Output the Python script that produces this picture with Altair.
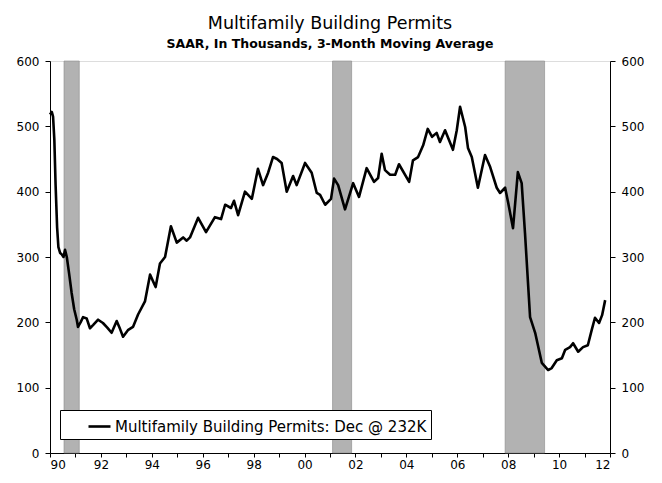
import altair as alt
import pandas as pd

# ---- data ----
years = [
    1990.00, 1990.07, 1990.12, 1990.17, 1990.22, 1990.28, 1990.33, 1990.40, 1990.46, 1990.53,
    1990.59, 1990.66, 1990.75, 1990.85, 1990.95, 1991.05, 1991.10, 1991.20, 1991.30, 1991.44,
    1991.57, 1991.70, 1991.89, 1992.08, 1992.25, 1992.42, 1992.62, 1992.75, 1992.87, 1993.06,
    1993.26, 1993.46, 1993.73, 1993.93, 1994.15, 1994.32, 1994.52, 1994.75, 1994.98, 1995.23,
    1995.37, 1995.50, 1995.82, 1996.13, 1996.48, 1996.72, 1996.88, 1997.11, 1997.23, 1997.39,
    1997.66, 1997.93, 1998.17, 1998.37, 1998.57, 1998.76, 1998.92, 1999.10, 1999.30, 1999.55,
    1999.69, 2000.02, 2000.28, 2000.48, 2000.61, 2000.81, 2001.04, 2001.16, 2001.32, 2001.59,
    2001.91, 2002.14, 2002.44, 2002.73, 2002.89, 2003.03, 2003.16, 2003.36, 2003.56, 2003.71,
    2004.11, 2004.26, 2004.46, 2004.66, 2004.84, 2005.01, 2005.19, 2005.32, 2005.52, 2005.83,
    2005.98, 2006.11, 2006.31, 2006.42, 2006.57, 2006.81, 2007.09, 2007.29, 2007.55, 2007.68,
    2007.88, 2008.00, 2008.19, 2008.38, 2008.53, 2008.66, 2008.86, 2009.06, 2009.32, 2009.57,
    2009.71, 2009.91, 2010.11, 2010.24, 2010.43, 2010.55, 2010.75, 2010.94, 2011.13, 2011.28,
    2011.41, 2011.57, 2011.69, 2011.81,
]
permits = [
    518, 522, 515, 480, 410, 345, 315, 306, 304, 300,
    311, 300, 275, 245, 220, 204, 193, 200, 208, 206,
    191, 196, 204, 199, 192, 184, 202, 190, 178, 188,
    193, 212, 232, 273, 254, 290, 300, 347, 322, 330,
    325, 330, 360, 338, 361, 358, 380, 375, 386, 364,
    400, 389, 435, 410, 429, 453, 450, 444, 400, 424,
    410, 444, 429, 398, 395, 380, 389, 420, 410, 373,
    413, 392, 436, 415, 421, 458, 433, 426, 426, 442,
    415, 448, 453, 471, 496, 484, 490, 476, 494, 464,
    494, 530, 499, 467, 453, 406, 456, 438, 406, 398,
    406, 383, 344, 430, 413, 337, 208, 184, 138, 127,
    130, 142, 145, 158, 162, 168, 155, 162, 165, 188,
    207, 199, 211, 234,
]
series_name = "Multifamily Building Permits: Dec @ 232K"

rec_start = [1990.55, 2001.10, 2007.88]
rec_end = [1991.15, 2001.85, 2009.43]

tick_years = list(range(1990, 2013))
y_ticks = [0, 100, 200, 300, 400, 500, 600]

df = pd.DataFrame({"year": years, "value": permits, "series": series_name})
rec = pd.DataFrame({"start": rec_start, "end": rec_end, "lo": 0, "hi": 600})

FONT = "DejaVu Sans"

xscale = alt.Scale(domain=[1990, 2012], nice=False, zero=False)
yscale = alt.Scale(domain=[0, 600], nice=False)

xaxis = alt.Axis(
    values=tick_years,
    labelExpr="datum.value % 2 == 0 ? substring(toString(datum.value), 2, 4) : ''",
    title=None, grid=False, tickSize=4, labelPadding=2, labelFontSize=12,
    labelFont=FONT, labelColor="black", domainColor="black", tickColor="black",
)

shade = alt.Chart(rec).mark_rect(color="#b2b2b2", stroke="#8a8a8a", strokeWidth=0.6).encode(
    x=alt.X("start:Q", scale=xscale, axis=xaxis),
    x2="end:Q",
    y=alt.Y("lo:Q", scale=yscale, axis=alt.Axis(
        values=y_ticks, title=None, grid=False, orient="left", tickSize=5,
        labelPadding=6, labelFontSize=12, labelFont=FONT, labelColor="black",
        domainColor="black", tickColor="black")),
    y2="hi:Q",
)

line = alt.Chart(df).mark_line(strokeWidth=2.6, strokeJoin="round").encode(
    x=alt.X("year:Q", scale=xscale, axis=xaxis),
    y=alt.Y("value:Q", scale=yscale, axis=alt.Axis(
        values=y_ticks, title=None, grid=False, orient="right", tickSize=5,
        labelPadding=6, labelFontSize=12, labelFont=FONT, labelColor="black",
        domainColor="black", tickColor="black")),
    color=alt.Color("series:N", scale=alt.Scale(range=["black"]), legend=alt.Legend(
        title=None, orient="none", legendX=10, legendY=349,
        strokeColor="black", fillColor="white", padding=4,
        symbolType="stroke", symbolSize=484, symbolStrokeWidth=2.6,
        symbolStrokeColor="black", symbolOffset=23, labelOffset=3,
        labelFontSize=15, labelFont=FONT, labelColor="black", labelLimit=600)),
)

chart = alt.layer(shade, line).resolve_scale(y="independent").properties(
    width=560, height=392,
    autosize=alt.AutoSizeParams(type="none"),
    padding={"left": 42, "top": 53, "right": 44, "bottom": 22},
    title=alt.TitleParams(
        text="Multifamily Building Permits",
        subtitle="SAAR, In Thousands, 3-Month Moving Average",
        font=FONT, fontSize=17.5, fontWeight="normal", color="black",
        subtitleFont=FONT, subtitleFontSize=12.5, subtitleFontWeight="bold",
        subtitleColor="black", subtitlePadding=5, offset=5, anchor="middle",
    ),
).configure_view(stroke="black", strokeWidth=1).configure(background="white")

chart.save("out.html", embed_options={"renderer": "svg", "actions": False})
